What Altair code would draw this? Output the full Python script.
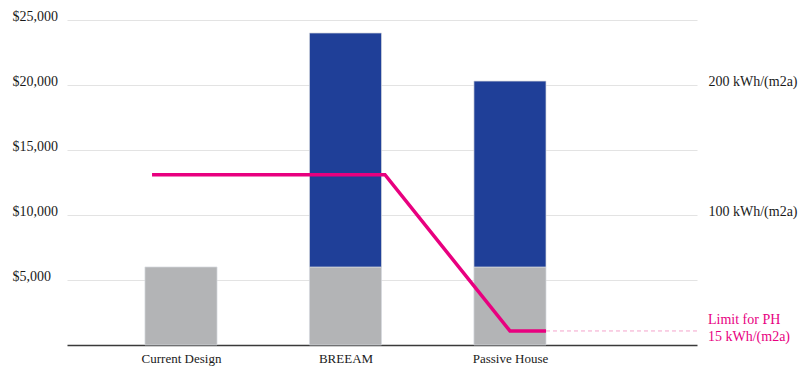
import altair as alt
import pandas as pd

# ---- data ----
categories = ["Current Design", "BREEAM", "Passive House"]
cat_pos = [1, 2, 3]
base_cost = [6000, 6000, 6000]          # grey segment ($)
extra_cost = [0, 18000, 14300]          # blue segment on top ($)

line_x = [0.824, 2.24, 3.0, 3.219]      # energy line vertices (category units)
line_kwh = [131, 131, 10.8, 10.8]       # kWh/(m2a)

limit_kwh = 10.8
left_ticks = [5000, 10000, 15000, 20000, 25000]
right_ticks = [100, 200]
annot_lines = ["Limit for PH", "15 kWh/(m2a)"]
annot_kwh = [19.2, 6.1]

X_DOMAIN = [0.307, 4.137]
HALF_BAR = 0.219
FONT = "Liberation Serif"
MAGENTA = "#e8007f"

# ---- tables ----
rows = []
for c, p, b, e in zip(categories, cat_pos, base_cost, extra_cost):
    rows.append(dict(cat=c, x0=p - HALF_BAR, x1=p + HALF_BAR, y0=0, y1=b, seg="base"))
    if e > 0:
        rows.append(dict(cat=c, x0=p - HALF_BAR, x1=p + HALF_BAR, y0=b, y1=b + e, seg="extra"))
bars_df = pd.DataFrame(rows)
line_df = pd.DataFrame({"x": line_x, "kwh": line_kwh, "order": list(range(len(line_x)))})
rule_df = pd.DataFrame({"x": [line_x[-1]], "x2": [X_DOMAIN[1]], "kwh": [limit_kwh]})
text_df = pd.DataFrame({"x": [X_DOMAIN[1]] * 2, "kwh": annot_kwh, "t": annot_lines})

label_map = "{" + ",".join(f"'{p}':'{c}'" for p, c in zip(cat_pos, categories)) + "}"
x_scale = alt.Scale(domain=X_DOMAIN, nice=False, zero=False)
x_axis = alt.Axis(
    values=cat_pos, labelExpr=f"{label_map}[datum.value]", title=None,
    grid=False, ticks=False, domainColor="#3a3a3a", domainWidth=1.5,
    labelFont=FONT, labelFontSize=13, labelColor="#1a1a1a", labelPadding=7,
)

bars = alt.Chart(bars_df).mark_bar(stroke="#d6d8de", strokeWidth=0.7).encode(
    x=alt.X("x0:Q", scale=x_scale, axis=x_axis),
    x2="x1:Q",
    y=alt.Y("y0:Q", scale=alt.Scale(domain=[0, 25000], nice=False),
            axis=alt.Axis(values=left_ticks, title=None, ticks=False, domain=False,
                          labelExpr="'$' + format(datum.value, ',')",
                          labelAlign="left", labelPadding=55, labelOffset=-4,
                          labelFont=FONT, labelFontSize=14, labelColor="#1a1a1a",
                          gridColor="#e3e3e3", gridWidth=1)),
    y2="y1:Q",
    color=alt.Color("seg:N", scale=alt.Scale(domain=["base", "extra"],
                                             range=["#b3b4b6", "#1f3f98"]), legend=None),
)

y_kwh = alt.Y("kwh:Q", scale=alt.Scale(domain=[0, 250], nice=False),
              axis=alt.Axis(values=right_ticks, title=None, ticks=False, domain=False,
                            grid=False, orient="right",
                            labelExpr="datum.value + ' kWh/(m2a)'",
                            labelPadding=11, labelOffset=-4,
                            labelFont=FONT, labelFontSize=14, labelColor="#1a1a1a"))

line = alt.Chart(line_df).mark_line(color=MAGENTA, strokeWidth=3.5).encode(
    x=alt.X("x:Q", scale=x_scale, axis=x_axis), y=y_kwh, order="order:Q")

rule = alt.Chart(rule_df).mark_rule(color="#f4a3cb", strokeWidth=1, strokeDash=[4, 3]).encode(
    x=alt.X("x:Q", scale=x_scale, axis=x_axis), x2="x2:Q", y=y_kwh)

text = alt.Chart(text_df).mark_text(align="left", baseline="middle", dx=11,
                                     font=FONT, fontSize=14, color=MAGENTA).encode(
    x=alt.X("x:Q", scale=x_scale, axis=x_axis), y=y_kwh, text="t:N")

chart = alt.layer(bars, alt.layer(line, rule, text)).resolve_scale(y="independent").properties(
    width=630, height=325,
    autosize=alt.AutoSizeParams(type="none"),
    padding={"left": 67, "top": 20, "right": 104, "bottom": 22},
    background="white",
).configure_view(stroke=None)

chart.save("out.html", embed_options={"renderer": "svg", "actions": False})
